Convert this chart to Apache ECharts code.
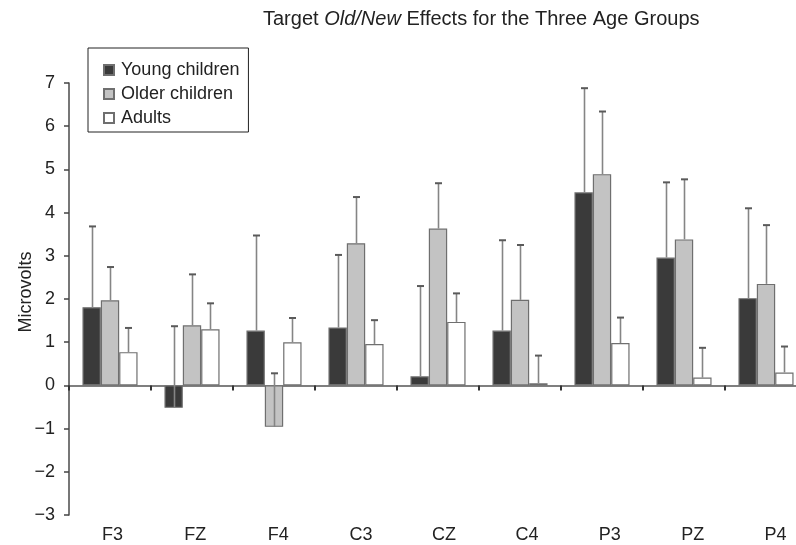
<!DOCTYPE html>
<html>
<head>
<meta charset="utf-8">
<script src="https://cdn.jsdelivr.net/npm/echarts@6/dist/echarts.min.js"></script>
<style>
html,body{margin:0;padding:0;background:#fff;overflow:hidden;}
#main{width:817px;height:545px;}
</style>
</head>
<body>
<div id="main"></div>
<script>
var categories = ['F3', 'FZ', 'F4', 'C3', 'CZ', 'C4', 'P3', 'PZ', 'P4'];
var seriesNames = ['Young children', 'Older children', 'Adults'];
var youngValues = [1.81, -0.52, 1.27, 1.34, 0.21, 1.27, 4.47, 2.96, 2.02];
var youngErrors = [1.87, 1.89, 2.20, 1.68, 2.09, 2.09, 2.41, 1.74, 2.08];
var olderValues = [1.97, 1.39, -0.96, 3.29, 3.63, 1.98, 4.89, 3.38, 2.35];
var olderErrors = [0.77, 1.18, 1.24, 1.07, 1.05, 1.27, 1.45, 1.39, 1.36];
var adultValues = [0.77, 1.30, 1.00, 0.96, 1.47, 0.05, 0.98, 0.18, 0.30];
var adultErrors = [0.56, 0.60, 0.56, 0.55, 0.66, 0.64, 0.59, 0.69, 0.60];
var yTicks = [-3, -2, -1, 0, 1, 2, 3, 4, 5, 6, 7];

var FONT = '"Liberation Sans", Arial, Helvetica, sans-serif';
var BAR_FRAC = 0.224;
var fills = ['#3a3a3a', '#c3c3c3', '#ffffff'];
var valueSets = [youngValues, olderValues, adultValues];
var errorSets = [youngErrors, olderErrors, adultErrors];

var chart = echarts.init(document.getElementById('main'), null, {renderer: 'canvas', width: 817, height: 545});

var series = [];
for (var s = 0; s < 3; s++) {
  series.push({
    name: seriesNames[s],
    type: 'bar',
    xAxisIndex: 0,
    yAxisIndex: 0,
    barWidth: (BAR_FRAC * 100) + '%',
    barGap: '0%',
    data: valueSets[s],
    itemStyle: {color: fills[s], borderColor: '#6f6f6f', borderWidth: 1.2},
    emphasis: {disabled: true},
    z: 2
  });
}
for (var s2 = 0; s2 < 3; s2++) {
  (function (idx) {
    var d = valueSets[idx].map(function (v, i) { return [i, v, v + errorSets[idx][i]]; });
    series.push({
      type: 'custom',
      xAxisIndex: 0,
      yAxisIndex: 0,
      data: d,
      z: 5,
      silent: true,
      renderItem: function (params, api) {
        var ci = api.value(0);
        var band = api.size([1, 0])[0];
        var off = (idx - 1) * BAR_FRAC * band;
        var p0 = api.coord([ci, api.value(1)]);
        var p1 = api.coord([ci, api.value(2)]);
        var x = Math.round(p0[0] + off) + 0.5;
        return {
          type: 'group',
          children: [
            {type: 'line', shape: {x1: x, y1: p0[1], x2: x, y2: p1[1]},
             style: {stroke: '#858585', lineWidth: 1.6}},
            {type: 'line', shape: {x1: x - 3.5, y1: p1[1], x2: x + 3.5, y2: p1[1]},
             style: {stroke: '#5a5a5a', lineWidth: 2}}
          ]
        };
      }
    });
  })(s2);
}

var option = {
  animation: false,
  backgroundColor: '#ffffff',
  title: {
    text: '{n|Target }{i|Old/New}{n| Effects for the Three Age Groups}',
    left: 258,
    top: 4,
    textStyle: {
      rich: {
        n: {fontFamily: FONT, fontSize: 20, color: '#222', fontWeight: 'normal'},
        i: {fontFamily: FONT, fontSize: 20, color: '#222', fontStyle: 'italic', fontWeight: 'normal'}
      }
    }
  },
  legend: {
    data: seriesNames,
    orient: 'vertical',
    left: 88,
    top: 48,
    padding: [13, 9, 5, 15],
    itemGap: 6,
    itemWidth: 10,
    itemHeight: 10,
    icon: 'rect',
    borderColor: '#222',
    borderWidth: 1,
    backgroundColor: '#fff',
    textStyle: {fontFamily: FONT, fontSize: 18, color: '#222', lineHeight: 18, padding: [0, 0, 0, 2]}
  },
  grid: [
    {left: 69, width: 738, top: 83, bottom: 30, containLabel: false, outerBoundsMode: 'none'},
    {left: 71, width: 746, top: 83, bottom: 30, containLabel: false, outerBoundsMode: 'none'}
  ],
  xAxis: [
    {
      type: 'category',
      gridIndex: 0,
      data: categories,
      position: 'top',
      axisLine: {show: true, onZero: true, lineStyle: {color: '#555', width: 1.6}},
      axisTick: {show: true, inside: true, length: 5, lineStyle: {color: '#333', width: 2}},
      axisLabel: {show: false}
    },
    {
      type: 'category',
      gridIndex: 1,
      data: categories,
      position: 'bottom',
      axisLine: {show: false, onZero: false},
      axisTick: {show: false},
      axisLabel: {fontFamily: FONT, fontSize: 18, color: '#222', margin: 11}
    }
  ],
  yAxis: [
    {
      type: 'value',
      gridIndex: 0,
      min: -3,
      max: 7,
      interval: 1,
      name: 'Microvolts',
      nameLocation: 'middle',
      nameGap: 34,
      nameMoveOverlap: false,
      nameTextStyle: {fontFamily: FONT, fontSize: 18, color: '#222', padding: [0, 0, 0, 14]},
      axisLine: {show: true, lineStyle: {color: '#555', width: 1.6}},
      axisTick: {show: true, length: 5, lineStyle: {color: '#444', width: 1.5}},
      splitLine: {show: false},
      axisLabel: {
        fontFamily: FONT, fontSize: 18, color: '#222', margin: 14,
        formatter: function (v) {
          return yTicks.indexOf(v) >= 0 ? (v < 0 ? '\u2212' + Math.abs(v) : String(v)) : '';
        }
      }
    },
    {
      type: 'value',
      gridIndex: 1,
      min: -3,
      max: 7,
      interval: 1,
      show: false
    }
  ],
  series: series
};
chart.setOption(option);
</script>
</body>
</html>
